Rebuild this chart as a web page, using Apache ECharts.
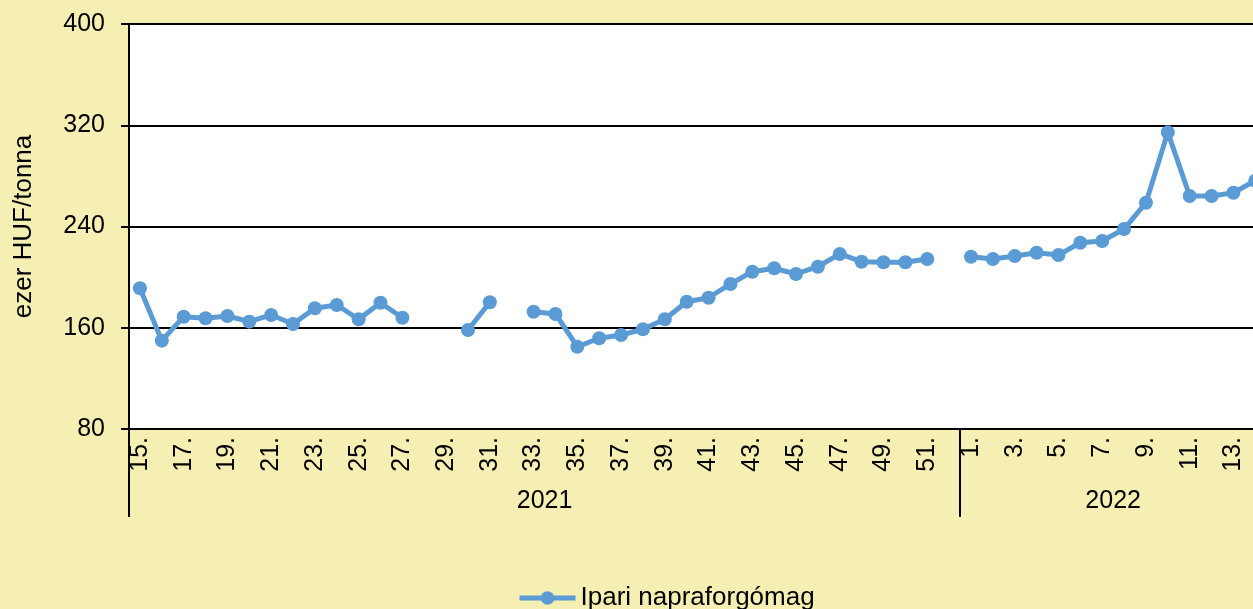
<!DOCTYPE html>
<html>
<head>
<meta charset="utf-8">
<script src="https://cdn.jsdelivr.net/npm/echarts@6/dist/echarts.min.js"></script>
<style>
html,body{margin:0;padding:0;background:#F5EFB4;}
#chart{width:1253px;height:609px;}
</style>
</head>
<body>
<div id="chart"></div>
<script>
// Categories: weeks 15–52 of 2021, weeks 1–14 of 2022
var weeks2021 = [15,16,17,18,19,20,21,22,23,24,25,26,27,28,29,30,31,32,33,34,35,36,37,38,39,40,41,42,43,44,45,46,47,48,49,50,51,52];
var weeks2022 = [1,2,3,4,5,6,7,8,9,10,11,12,13,14];
var years = ['2021', '2022'];
var seriesName = 'Ipari napraforgómag';
var yTicks = [80, 160, 240, 320, 400];
var yAxisName = 'ezer HUF/tonna';

// Values (ezer HUF/tonna), null = no data
var values2021 = [191.2,149.8,168.7,167.5,169.3,164.8,170.1,163.0,175.4,178.0,166.7,179.8,167.9,null,null,158.2,180.1,null,172.7,170.9,145.0,151.7,154.3,158.8,166.7,180.6,183.7,194.6,204.3,207.0,202.5,208.2,218.3,212.2,211.7,211.7,214.3,null];
var values2022 = [216.1,214.3,216.7,219.3,217.5,227.2,228.5,238.0,258.8,314.4,264.1,264.1,266.7,276.2];

var categories = weeks2021.map(function(w){return w + '.';}).concat(weeks2022.map(function(w){return w + '.';}));
var values = values2021.concat(values2022);
var n1 = weeks2021.length, n2 = weeks2022.length, total = n1 + n2;

var font = "'Liberation Sans', Arial, sans-serif";
var chart = echarts.init(document.getElementById('chart'));
chart.setOption({
  backgroundColor: '#F5EFB4',
  animation: false,
  textStyle: {fontFamily: font},
  grid: {
    left: 129, top: 24, bottom: 180, width: total * 21.87,
    show: true, backgroundColor: '#ffffff', borderWidth: 0,
    outerBoundsMode: 'none'
  },
  legend: {
    show: true, left: 512, top: 580,
    itemWidth: 56, itemHeight: 17, itemGap: 10,
    lineStyle: {width: 5},
    textStyle: {fontSize: 26, color: '#000', fontFamily: font},
    data: [seriesName]
  },
  xAxis: [{
    type: 'category',
    data: categories,
    boundaryGap: true,
    axisLine: {lineStyle: {color: '#000', width: 2}},
    axisTick: {show: false},
    axisLabel: {interval: 1, rotate: 90, fontSize: 25, color: '#000', margin: 8, fontFamily: font}
  }, {
    type: 'value',
    position: 'bottom',
    min: 0, max: total,
    axisLine: {show: false},
    splitLine: {show: false},
    axisTick: {show: true, customValues: [0, n1, total], length: 88, lineStyle: {color: '#000', width: 2}},
    axisLabel: {
      customValues: [n1 / 2, n1 + n2 / 2],
      formatter: function(v){ return v < n1 ? years[0] : years[1]; },
      fontSize: 25, color: '#000', margin: 60, fontFamily: font
    }
  }],
  yAxis: {
    type: 'value',
    min: yTicks[0], max: yTicks[yTicks.length - 1], interval: yTicks[1] - yTicks[0],
    name: yAxisName, nameLocation: 'middle', nameGap: 92,
    nameTextStyle: {fontSize: 26, color: '#000', fontFamily: font},
    axisLine: {show: true, lineStyle: {color: '#000', width: 2}},
    axisTick: {show: true, length: 8, lineStyle: {color: '#000', width: 2}},
    splitLine: {show: true, lineStyle: {color: '#000', width: 2}},
    axisLabel: {fontSize: 25, color: '#000', margin: 24, fontFamily: font}
  },
  series: [{
    name: seriesName,
    type: 'line',
    data: values,
    xAxisIndex: 0,
    connectNulls: false,
    symbol: 'circle',
    symbolSize: 14,
    lineStyle: {color: '#5B9BD5', width: 5},
    itemStyle: {color: '#5B9BD5'},
    z: 5
  }]
});
</script>
</body>
</html>
